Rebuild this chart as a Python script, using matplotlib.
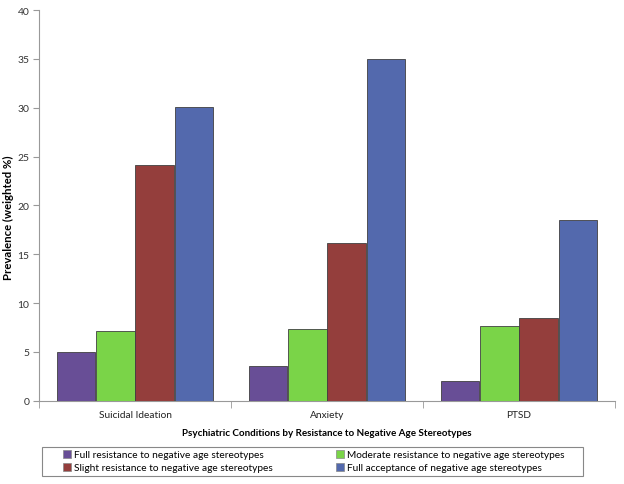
import matplotlib
matplotlib.use("Agg")
import matplotlib.pyplot as plt
from matplotlib.patches import Rectangle
import numpy as np

categories = ["Suicidal Ideation", "Anxiety", "PTSD"]
series_names = [
    "Full resistance to negative age stereotypes",
    "Moderate resistance to negative age stereotypes",
    "Slight resistance to negative age stereotypes",
    "Full acceptance of negative age stereotypes",
]
full_resistance = [5.0, 3.6, 2.0]
moderate_resistance = [7.1, 7.3, 7.6]
slight_resistance = [24.1, 16.1, 8.5]
full_acceptance = [30.1, 35.0, 18.5]
colors = ["#684e96", "#7ad448", "#943e3c", "#5369ad"]
yticks = [0, 5, 10, 15, 20, 25, 30, 35, 40]

plt.rcParams['font.family'] = ['Lato', 'DejaVu Sans']

fig = plt.figure(figsize=(6.24, 4.85), dpi=100)
ax = fig.add_axes([0.0625, 0.1718, 0.9231, 0.8055])

x = np.arange(len(categories))
bw = 0.2
all_series = [full_resistance, moderate_resistance, slight_resistance, full_acceptance]
handles = []
for i, (vals, c, name) in enumerate(zip(all_series, colors, series_names)):
    b = ax.bar(x + (i - 1.5) * (bw + 0.005), vals, width=bw, color=c,
               edgecolor="#404040", linewidth=0.6, label=name, zorder=3)
    handles.append(b)

ax.set_xlim(-0.5, 2.5)
ax.set_ylim(0, 40)
ax.set_yticks(yticks)
ax.set_yticklabels([str(t) for t in yticks], fontsize=7.5, color="#333333")
ax.set_xticks(x)
ax.set_xticklabels(categories, fontsize=7.3, color="#222222")
ax.tick_params(axis='x', length=0, pad=7)
ax.set_xticks([-0.5, 0.5, 1.5, 2.5], minor=True)
ax.tick_params(axis='x', which='minor', length=5, color="#999999", direction='out')
ax.tick_params(axis='y', length=4, color="#999999", direction='out', pad=3)

for s in ["top", "right"]:
    ax.spines[s].set_visible(False)
for s in ["left", "bottom"]:
    ax.spines[s].set_color("#999999")
    ax.spines[s].set_linewidth(0.8)

ax.set_ylabel("Prevalence (weighted %)", fontsize=8.2, fontweight='bold')
ax.yaxis.set_label_coords(-0.0434, 0.47)
ax.set_xlabel("Psychiatric Conditions by Resistance to Negative Age Stereotypes",
              fontsize=7.1, fontweight='bold', labelpad=6)

order = [0, 2, 1, 3]
leg = fig.legend([handles[i] for i in order], [series_names[i] for i in order],
                 ncol=2, loc='center', bbox_to_anchor=(0.503, 0.0469),
                 fontsize=7.3, frameon=False, handlelength=0.8, handleheight=0.8,
                 handletextpad=0.3, labelspacing=0.35, borderpad=0.0,
                 columnspacing=6.2, borderaxespad=0)
for h in leg.legend_handles:
    h.set_edgecolor("#888888")
    h.set_linewidth(0.5)

frame = Rectangle((42 / 624, 1 - 477 / 485), 541 / 624, 29 / 485,
                  transform=fig.transFigure, fill=False, edgecolor="#888888",
                  linewidth=0.8)
fig.add_artist(frame)

fig.savefig("out.png", dpi=100)
